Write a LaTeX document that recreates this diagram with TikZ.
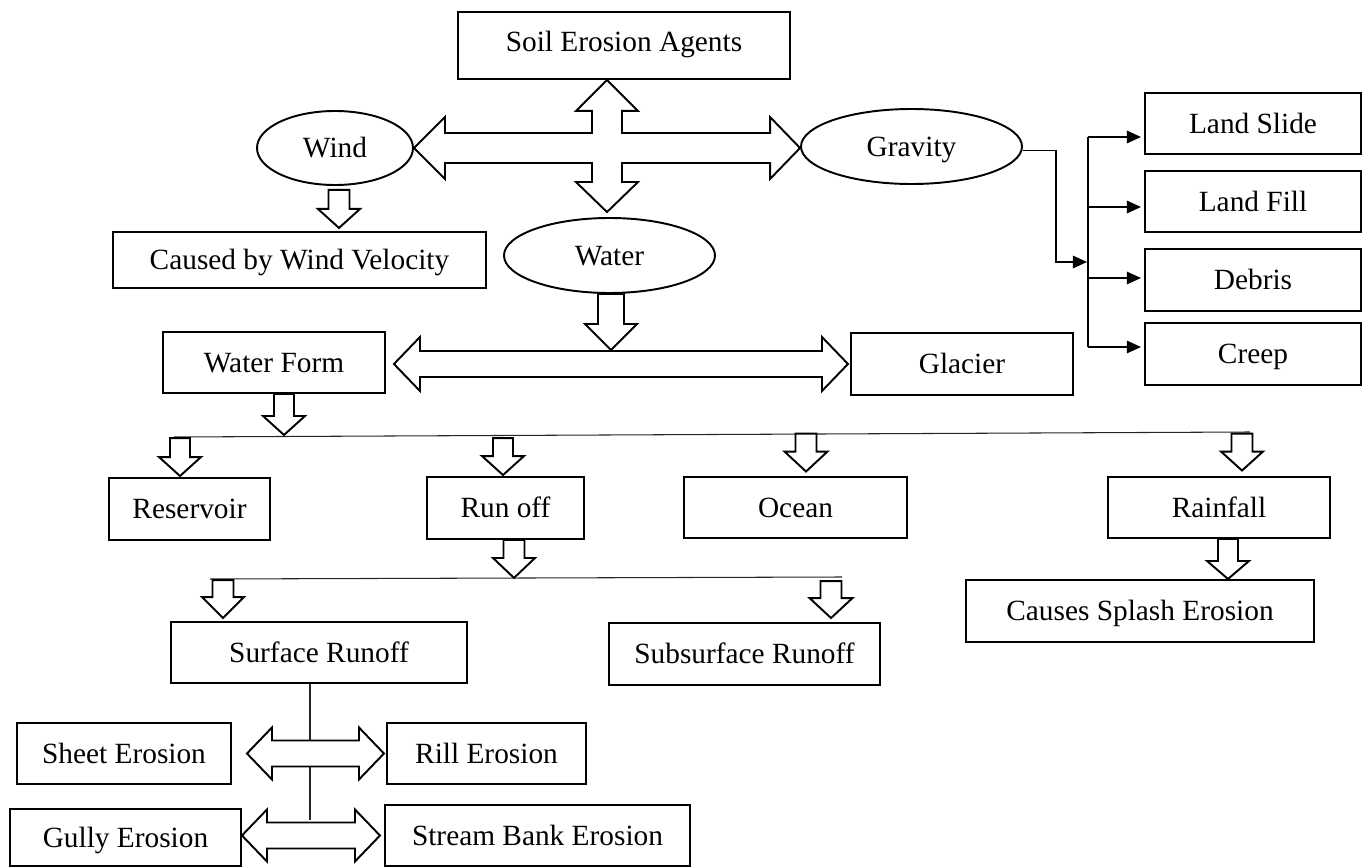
\documentclass[tikz,border=0pt]{standalone}
\usepackage{fontspec}
\setmainfont{Liberation Serif}
\usetikzlibrary{shapes.geometric, arrows.meta, calc}

% hollow block arrows: start, length, shaft half width, head half width, head length
\newcommand{\downblock}[5]{%
  \draw[block] (#1) ++(-#3,0) -- ++(0,#2-#5) -- ++(#3-#4,0) -- ++(#4,#5) -- ++(#4,-#5) -- ++(#3-#4,0) -- ++(0,#5-#2) -- cycle;}
\newcommand{\sideblock}[5]{%
  \draw[block] (#1) -- ++(#5,-#4) -- ++(0,#4-#3) -- ++(#2-2*#5,0) -- ++(0,#3-#4) -- ++(#5,#4) -- ++(-#5,#4) -- ++(0,#3-#4) -- ++(2*#5-#2,0) -- ++(0,#4-#3) -- cycle;}

\begin{document}
\begin{tikzpicture}[x=0.02cm, y=-0.02cm,
    box/.style={rectangle, draw=black, line width=1.1pt, inner sep=0pt, text height=11.5pt, text depth=0.5pt, font=\fontsize{16.7}{20}\selectfont},
    oval/.style={ellipse, draw=black, line width=1.1pt, inner sep=0pt, text height=11.5pt, text depth=0.5pt, font=\fontsize{16.7}{20}\selectfont},
    wh/.style 2 args={minimum width=#1*0.02cm, minimum height=#2*0.02cm},
    block/.style={draw=black, line width=1.1pt, fill=white, line join=miter},
    conn/.style={draw=black, line width=1.1pt},
    thinline/.style={draw=black!85, line width=0.6pt},
    endarrow/.style={conn, -{Triangle[length=8pt, width=7pt]}}
]
\useasboundingbox (0,0) rectangle (1369,868);

\node[box, wh={332}{67}, text depth=4.5pt] (agents) at (624,45.5) {Soil Erosion Agents};
\node[oval, wh={156}{74}] (wind) at (335,148) {Wind};
\node[oval, wh={221}{75}] (gravity) at (911.5,146.5) {Gravity};
\node[oval, wh={211}{75}] (water) at (609.5,255.5) {Water};
\node[box, wh={373}{56}] (windvel) at (299.5,260) {Caused by Wind Velocity};

\node[box, wh={222}{61}] (waterform) at (274,362.5) {Water Form};
\node[box, wh={222}{62}] (glacier) at (962,364) {Glacier};

\node[box, wh={216}{61}] (landslide) at (1253,123.5) {Land Slide};
\node[box, wh={216}{61}] (landfill) at (1253,201.5) {Land Fill};
\node[box, wh={216}{62}] (debris) at (1253,280) {Debris};
\node[box, wh={216}{62}] (creep) at (1253,354) {Creep};

\node[box, wh={161}{62}] (reservoir) at (189.5,509) {Reservoir};
\node[box, wh={157}{62}] (runoff) at (505.5,508) {Run off};
\node[box, wh={223}{61}] (ocean) at (795.5,507.5) {Ocean};
\node[box, wh={222}{61}] (rainfall) at (1219,507.5) {Rainfall};
\node[box, wh={348}{62}] (splash) at (1140,611) {Causes Splash Erosion};

\node[box, wh={296}{61}] (surface) at (319,652.5) {Surface Runoff};
\node[box, wh={271}{62}] (subsurface) at (744.5,654) {Subsurface Runoff};

\node[box, wh={214}{61}] (sheet) at (124,753.5) {Sheet Erosion};
\node[box, wh={199}{61}] (rill) at (486.5,753.5) {Rill Erosion};
\node[box, wh={231}{57}] (gully) at (125.5,837.5) {Gully Erosion};
\node[box, wh={305}{61}] (stream) at (537.5,835.5) {Stream Bank Erosion};

% four-way arrow
\coordinate (hub) at (607,148);
\path (hub |- agents.south) coordinate (U) ($(hub |- water.north)+(0,-5)$) coordinate (D)
      (wind.east) coordinate (L) (hub -| gravity.west) coordinate (R);
\draw[block] (U) -- ++(31,31) -- ++(-16,0) |- ($(R)+(-30,-15)$) -- ++(0,-16) -- (R)
  -- ++(-30,31) -- ++(0,-16) -| ($(D)+(15,-30)$) -- ++(16,0) -- (D)
  -- ++(-31,-30) -- ++(16,0) |- ($(L)+(31,15)$) -- ++(0,16) -- (L)
  -- ++(31,-31) -- ++(0,16) -| ($(U)+(-15,31)$) -- ++(-16,0) -- cycle;

\downblock{$(wind.south)+(4,4)$}{38}{10.5}{21}{19}
\downblock{$(water.south)+(1.5,0)$}{56}{13}{26}{26}
\sideblock{$(waterform.east)+(8,1.5)$}{454}{13}{27}{26}
\downblock{$(waterform.south)+(10,0)$}{41}{10}{21}{19}

% gravity branches
\coordinate (busin) at (1087,262);
\draw[endarrow] ($(gravity.east)+(0,4)$) -- ++(33,0) |- (busin);
\draw[conn] ($(landslide.west)+(-56,13.5)$) -- ($(creep.west)+(-56,-7)$);
\foreach \n/\dy in {landslide/13.5, landfill/5.5, debris/-2, creep/-7}
  \draw[endarrow] ($(\n.west)+(-56,\dy)$) -- ($(\n.west)+(-3,\dy)$);

% water forms
\coordinate (formbus-l) at (174,437);
\coordinate (formbus-r) at (1250,432);
\draw[thinline] (formbus-l) -- (formbus-r);
\downblock{$(reservoir.north)+(-9.5,-39)$}{38}{10}{21}{19}
\downblock{$(runoff.north)+(-2.5,-38)$}{37}{10}{21}{19}
\downblock{$(ocean.north)+(10.5,-42.5)$}{38}{10.5}{21.5}{20}
\downblock{$(rainfall.north)+(23,-42.5)$}{37}{10.5}{21}{19}
\downblock{$(rainfall.south)+(9,0)$}{40}{10}{21}{18}
\downblock{$(runoff.south)+(8.5,0)$}{38}{10.5}{21}{20}

% runoff types
\coordinate (runbus-l) at (210,579);
\coordinate (runbus-r) at (842,577);
\draw[thinline] (runbus-l) -- (runbus-r);
\downblock{$(surface.north)+(-96,-41)$}{38}{10.5}{21}{21}
\downblock{$(subsurface.north)+(86.5,-41)$}{37}{10.5}{21.5}{20}

\draw[thinline] ($(surface.south)+(-9,0)$) -- ++(0,136);
\sideblock{$(sheet.east)+(15,0)$}{137}{13}{26}{25}
\sideblock{$(gully.east)+(0,-2)$}{138}{13}{26}{25}

\end{tikzpicture}
\end{document}
